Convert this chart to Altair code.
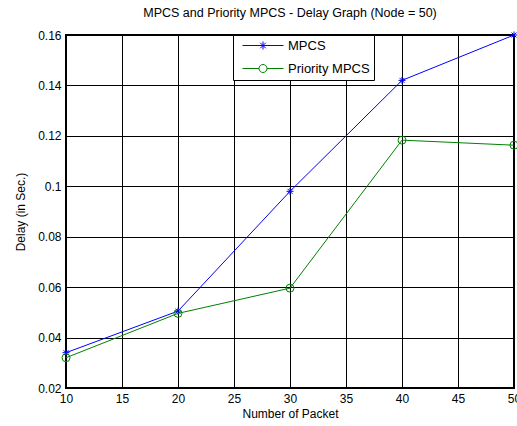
import altair as alt
import pandas as pd

packets = [10, 20, 30, 40, 50]
mpcs = [0.034, 0.0505, 0.098, 0.142, 0.160]
priority = [0.032, 0.0496, 0.0596, 0.1183, 0.1163]
series_names = ["MPCS", "Priority MPCS"]
series_colors = ["#0000FF", "#008000"]
x_ticks = [10, 15, 20, 25, 30, 35, 40, 45, 50]
y_ticks = [0.02, 0.04, 0.06, 0.08, 0.1, 0.12, 0.14, 0.16]

df = pd.DataFrame(
    {
        "packet": packets * 2,
        "delay": mpcs + priority,
        "series": [series_names[0]] * len(packets) + [series_names[1]] * len(packets),
    }
)

FONT = "Liberation Sans"
ASTERISK = "M-1,0L1,0M0,-1L0,1M-0.7,-0.7L0.7,0.7M-0.7,0.7L0.7,-0.7"
LEG_MPCS = (
    "M-0.2,0L8,0"
    "M3.1,0L4.7,0M3.9,-0.8L3.9,0.8M3.35,-0.55L4.45,0.55M3.35,0.55L4.45,-0.55"
)
LEG_PRIO = (
    "M-0.2,0L3.1,0M4.7,0L8,0"
    "M3.1,0A0.8,0.8 0 1,0 4.7,0A0.8,0.8 0 1,0 3.1,0"
)

xs = alt.X(
    "packet:Q",
    scale=alt.Scale(domain=[10, 50], nice=False, zero=False),
    axis=alt.Axis(
        values=x_ticks,
        title="Number of Packet",
        labelFlush=False,
        labelPadding=5,
        titlePadding=4,
    ),
)
ys = alt.Y(
    "delay:Q",
    scale=alt.Scale(domain=[0.02, 0.16], nice=False, zero=False),
    axis=alt.Axis(
        values=y_ticks,
        format="~g",
        title="Delay (in Sec.)",
        labelFlush=False,
        labelPadding=5,
        titlePadding=10,
    ),
)

layers = []
for name, color, shape, size in [
    (series_names[0], series_colors[0], ASTERISK, 49),
    (series_names[1], series_colors[1], "circle", 64),
]:
    sub = alt.Chart(df).transform_filter(alt.datum.series == name)
    layers.append(sub.mark_line(color=color, strokeWidth=1).encode(x=xs, y=ys))
    layers.append(
        sub.mark_point(color=color, shape=shape, size=size, filled=False, strokeWidth=1, opacity=1).encode(
            x=xs, y=ys
        )
    )

legend_layer = (
    alt.Chart(df)
    .mark_point(filled=False, opacity=0)
    .encode(
        x=xs,
        y=ys,
        color=alt.Color(
            "series:N",
            scale=alt.Scale(domain=series_names, range=series_colors),
            legend=alt.Legend(
                title=None,
                orient="none",
                legendX=167,
                legendY=0,
                symbolOpacity=1,
            ),
        ),
        shape=alt.Shape(
            "series:N",
            scale=alt.Scale(domain=series_names, range=[LEG_MPCS, LEG_PRIO]),
            legend=alt.Legend(
                title=None,
                orient="none",
                legendX=167,
                legendY=0,
                symbolOpacity=1,
            ),
        ),
    )
)
layers.append(legend_layer)

chart = (
    alt.layer(*layers)
    .properties(
        width=448,
        height=353,
        autosize=alt.AutoSizeParams(type="none"),
        padding={"left": 66, "top": 35, "right": 3, "bottom": 38},
        title=alt.TitleParams(
            "MPCS and Priority MPCS - Delay Graph (Node = 50)",
            font=FONT,
            fontSize=12.5,
            fontWeight="normal",
            color="black",
            anchor="middle",
            offset=10,
        ),
    )
    .configure_view(stroke="black", strokeWidth=2)
    .configure_axis(
        grid=True,
        gridColor="black",
        gridOpacity=1,
        gridWidth=1,
        domain=False,
        ticks=False,
        labelFont=FONT,
        labelFontSize=12,
        labelColor="black",
        titleFont=FONT,
        titleFontSize=12,
        titleFontWeight="normal",
        titleColor="black",
    )
    .configure_legend(
        fillColor="white",
        strokeColor="black",
        strokeWidth=1,
        padding=4,
        symbolSize=100,
        symbolStrokeWidth=1,
        labelOffset=38,
        labelFont=FONT,
        labelFontSize=13,
        labelColor="black",
        rowPadding=9,
        cornerRadius=0,
    )
)

chart.save("out.html", embed_options={"renderer": "svg", "actions": False})
